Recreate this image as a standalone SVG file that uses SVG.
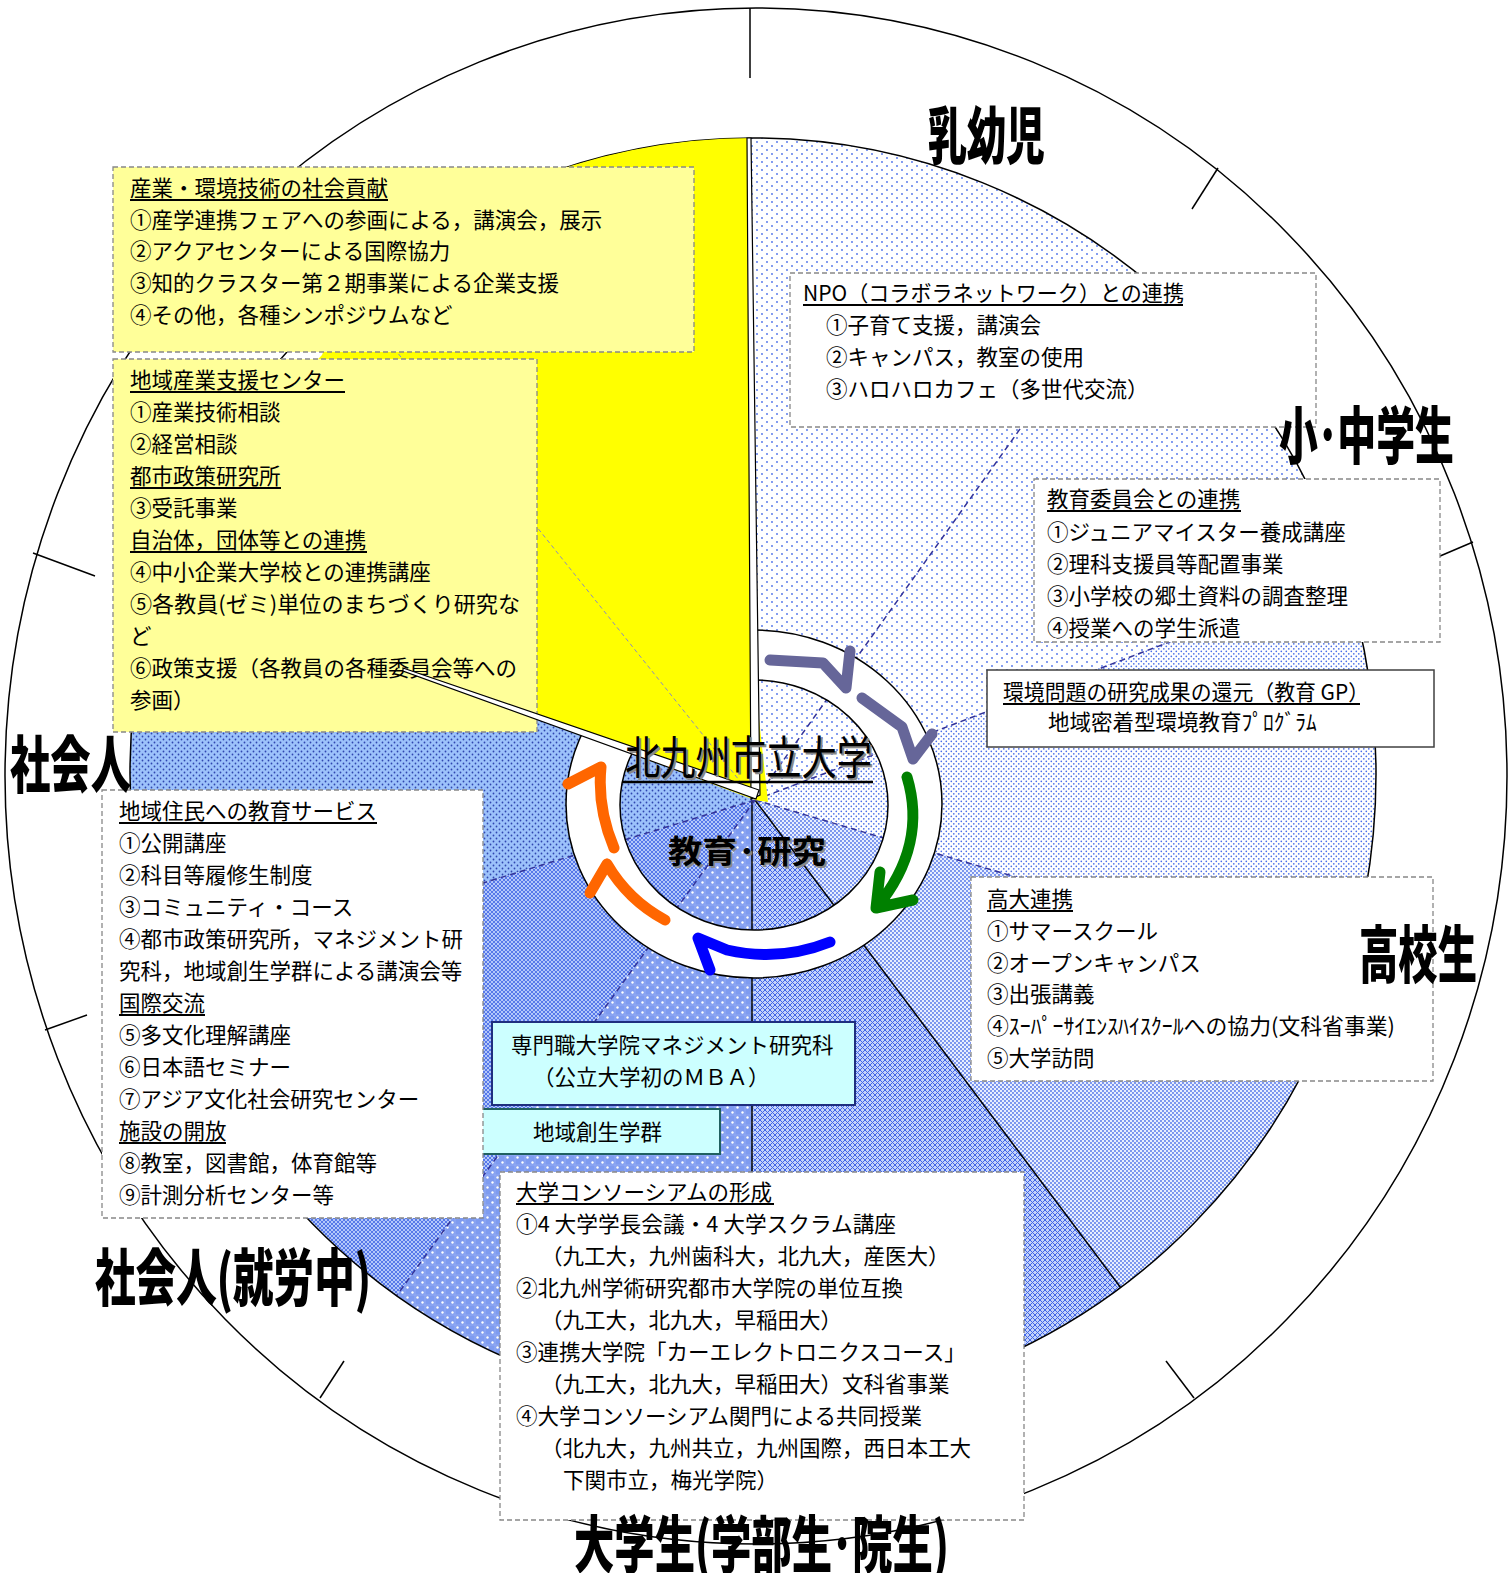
<svg xmlns="http://www.w3.org/2000/svg" width="1510" height="1573" viewBox="0 0 1510 1573">
<defs>
<style>
.t{font-family:"Noto Sans CJK JP","Noto Sans CJK SC",sans-serif;font-size:21.5px;fill:#000}
.big{font-family:"Noto Sans CJK JP","Noto Sans CJK SC",sans-serif;font-size:62px;font-weight:900;fill:#000}
.ctr{font-family:"Noto Sans CJK JP","Noto Sans CJK SC",sans-serif;fill:#000}
.box{fill:#fff;stroke:#888;stroke-width:1.3;stroke-dasharray:5 3}
.ybox{fill:#FFFF99;stroke:#888;stroke-width:1.3;stroke-dasharray:5 3}
.ul{stroke:#000;stroke-width:2}
.dl{stroke:#333399;stroke-width:1.5;stroke-dasharray:6 4;fill:none}
.sl{stroke:#000;stroke-width:1.5;fill:none}
.tk{stroke:#000;stroke-width:1.5}
.arw{fill:none;stroke-width:11;stroke-linecap:round;stroke-linejoin:round}
.strip{fill:#fff;stroke:#000;stroke-width:1.2}
</style>
<pattern id="pA" width="10" height="8" patternUnits="userSpaceOnUse">
<rect width="10" height="8" fill="#fff"/>
<circle cx="2" cy="2" r="0.9" fill="#4a6ee8"/>
<circle cx="7" cy="6" r="0.9" fill="#4a6ee8"/>
</pattern>
<pattern id="pB" width="5" height="5" patternUnits="userSpaceOnUse">
<rect width="5" height="5" fill="#fff"/>
<circle cx="1.3" cy="1.3" r="0.85" fill="#4a6ee8"/>
<circle cx="3.8" cy="3.8" r="0.85" fill="#4a6ee8"/>
</pattern>
<pattern id="pC" width="4" height="4" patternUnits="userSpaceOnUse">
<rect width="4" height="4" fill="#e8eefe"/>
<circle cx="1" cy="1" r="0.9" fill="#4a6ee8"/>
<circle cx="3" cy="3" r="0.9" fill="#4a6ee8"/>
</pattern>
<pattern id="pD" width="5" height="5" patternUnits="userSpaceOnUse">
<rect width="5" height="5" fill="#c4d3fa"/>
<path d="M0,0 L5,5 M5,0 L0,5" stroke="#4266e6" stroke-width="1"/>
</pattern>
<pattern id="pE" width="10" height="10" patternUnits="userSpaceOnUse">
<rect width="10" height="10" fill="#7e9bf0"/>
<path d="M0,5 L10,5 M5,0 L5,10" stroke="#93acf3" stroke-width="1"/>
<circle cx="2.5" cy="2.5" r="1.2" fill="#fff"/>
<circle cx="7.5" cy="7.5" r="1.2" fill="#fff"/>
</pattern>
<pattern id="pF" width="4" height="4" patternUnits="userSpaceOnUse">
<rect width="4" height="4" fill="#b3c7fa"/>
<path d="M0,0 L4,4 M4,0 L0,4" stroke="#4c6fe8" stroke-width="0.9"/>
</pattern>
<pattern id="pG" width="6" height="6" patternUnits="userSpaceOnUse">
<rect width="6" height="6" fill="#9cc2fb"/>
<circle cx="1.5" cy="1.5" r="0.9" fill="#2f46b0"/>
<circle cx="4.5" cy="4.5" r="0.9" fill="#2f46b0"/>
</pattern>
<clipPath id="pieclip"><ellipse cx="753" cy="774" rx="623" ry="636"/></clipPath>
</defs>
<rect width="1510" height="1573" fill="#fff"/>

<g id="outer-circle">
<ellipse cx="756" cy="776" rx="751" ry="768" fill="#fff" stroke="#000" stroke-width="1.5"/>
<line class="tk" x1="750" y1="8" x2="750" y2="78"/>
<line class="tk" x1="1218" y1="168" x2="1192" y2="209"/>
<line class="tk" x1="1473" y1="542" x2="1419" y2="565"/>
<line class="tk" x1="1194" y1="1398" x2="1166" y2="1361"/>
<line class="tk" x1="320" y1="1398" x2="344" y2="1361"/>
<line class="tk" x1="45" y1="1030" x2="87" y2="1015"/>
<line class="tk" x1="33" y1="553" x2="95" y2="576"/>
</g>

<g id="pie-sectors" clip-path="url(#pieclip)">
<polygon points="755,800 745,-200 1336,-14" fill="url(#pA)"/>
<polygon points="755,800 1336,-14 1689,442" fill="url(#pA)"/>
<polygon points="755,800 1689,442 1714,1082" fill="url(#pB)"/>
<polygon points="755,800 1714,1082 1355,1600" fill="url(#pC)"/>
<polygon points="755,800 1355,1600 750,1800" fill="url(#pD)"/>
<polygon points="755,800 750,1800 169,1610" fill="url(#pE)"/>
<polygon points="755,800 169,1610 -201,1092" fill="url(#pF)"/>
<polygon points="755,800 -201,1092 -181,448" fill="url(#pG)"/>
<line class="sl" x1="755" y1="800" x2="1121" y2="1288"/>
<line class="sl" x1="752" y1="800" x2="752" y2="1412"/>
<line class="dl" x1="755" y1="800" x2="1100" y2="317"/>
<line class="dl" x1="755" y1="800" x2="1340" y2="577"/>
<line class="dl" x1="755" y1="800" x2="1341" y2="973"/>
<line class="dl" x1="755" y1="800" x2="165" y2="980"/>
<line class="dl" x1="755" y1="800" x2="392" y2="1302" stroke="#1f3f5f"/>
</g>
<ellipse cx="753" cy="774" rx="623" ry="636" fill="none" stroke="#000" stroke-width="1.5"/>

<g id="ring">
<path d="M566,804 a188,174 0 1,0 376,0 a188,174 0 1,0 -376,0 Z M620,805 a134,125 0 1,0 268,0 a134,125 0 1,0 -268,0 Z" fill="#fff" fill-rule="evenodd" stroke="#000" stroke-width="1.5"/>
</g>

<g id="yellow-sector" clip-path="url(#pieclip)">
<polygon points="755,800 120,562 322,355 420,100 420,-100 750,-100 750,138 757,700 768,802" fill="#FFFF00"/>
<line x1="755" y1="800" x2="349" y2="292" stroke="#8c8cc0" stroke-width="1" stroke-dasharray="4 3"/>
</g>

<g id="connectors">
<path class="arw" stroke="#666699" stroke-width="12" d="M770,660 L823,663 L846,688 M850,651 L846,688"/>
<path class="arw" stroke="#666699" stroke-width="12" d="M862,698 L902,727 L913,759 M932,734 L913,759"/>
<path class="arw" stroke="#008000" d="M907,777 C920,820 912,865 876,908 M880,872 L876,908 L913,900"/>
<path class="arw" stroke="#0000FF" d="M830,942 Q780,962 727,950 L698,938 L710,970"/>
<path class="arw" stroke="#FF6600" d="M665,920 Q628,900 607,864 M590,893 L607,864"/>
<path class="arw" stroke="#FF6600" d="M614,848 Q597,808 601,767 M568,784 L601,767"/>
</g>

<g id="box-industry">
<rect class="ybox" x="113" y="167" width="581" height="185"/>
<text class="t" x="130" y="196">産業・環境技術の社会貢献</text>
<line class="ul" x1="130" y1="200" x2="388" y2="200"/>
<text class="t" x="130" y="228">①産学連携フェアへの参画による，講演会，展示</text>
<text class="t" x="130" y="259">②アクアセンターによる国際協力</text>
<text class="t" x="130" y="291">③知的クラスター第２期事業による企業支援</text>
<text class="t" x="130" y="323">④その他，各種シンポジウムなど</text>
</g>

<g id="box-regional">
<rect class="ybox" x="113" y="359" width="424" height="373"/>
<text class="t" x="130" y="388">地域産業支援センター</text>
<line class="ul" x1="130" y1="392" x2="345" y2="392"/>
<text class="t" x="130" y="420">①産業技術相談</text>
<text class="t" x="130" y="452">②経営相談</text>
<text class="t" x="130" y="484">都市政策研究所</text>
<line class="ul" x1="130" y1="488" x2="281" y2="488"/>
<text class="t" x="130" y="516">③受託事業</text>
<text class="t" x="130" y="548">自治体，団体等との連携</text>
<line class="ul" x1="130" y1="552" x2="367" y2="552"/>
<text class="t" x="130" y="580">④中小企業大学校との連携講座</text>
<text class="t" x="130" y="612" textLength="390" lengthAdjust="spacingAndGlyphs">⑤各教員(ゼミ)単位のまちづくり研究な</text>
<text class="t" x="130" y="644">ど</text>
<text class="t" x="130" y="676">⑥政策支援（各教員の各種委員会等への</text>
<text class="t" x="130" y="708">参画）</text>
</g>

<g id="box-npo">
<rect class="box" x="790" y="273" width="526" height="154"/>
<text class="t" x="803" y="301" textLength="381" lengthAdjust="spacingAndGlyphs">NPO（コラボラネットワーク）との連携</text>
<line class="ul" x1="803" y1="305" x2="1183" y2="305"/>
<text class="t" x="826" y="333">①子育て支援，講演会</text>
<text class="t" x="826" y="365">②キャンパス，教室の使用</text>
<text class="t" x="826" y="397">③ハロハロカフェ（多世代交流）</text>
</g>

<g id="box-board">
<rect class="box" x="1034" y="479" width="406" height="163"/>
<text class="t" x="1047" y="507">教育委員会との連携</text>
<line class="ul" x1="1047" y1="511" x2="1241" y2="511"/>
<text class="t" x="1047" y="540">①ジュニアマイスター養成講座</text>
<text class="t" x="1047" y="572">②理科支援員等配置事業</text>
<text class="t" x="1047" y="604">③小学校の郷土資料の調査整理</text>
<text class="t" x="1047" y="636">④授業への学生派遣</text>
</g>

<g id="box-env">
<rect x="987" y="670" width="447" height="77" fill="#fff" stroke="#404040" stroke-width="1.5"/>
<text class="t" x="1003" y="700" textLength="366" lengthAdjust="spacingAndGlyphs">環境問題の研究成果の還元（教育 GP）</text>
<line class="ul" x1="1003" y1="704" x2="1360" y2="704"/>
<text class="t" x="1048" y="730">地域密着型環境教育ﾌﾟﾛｸﾞﾗﾑ</text>
</g>

<g id="box-highschool">
<rect class="box" x="971" y="877" width="462" height="204"/>
<text class="t" x="987" y="907">高大連携</text>
<line class="ul" x1="987" y1="911" x2="1073" y2="911"/>
<text class="t" x="987" y="939">①サマースクール</text>
<text class="t" x="987" y="971">②オープンキャンパス</text>
<text class="t" x="987" y="1002">③出張講義</text>
<text class="t" x="987" y="1034" textLength="408" lengthAdjust="spacingAndGlyphs">④ｽｰﾊﾟｰｻｲｴﾝｽﾊｲｽｸｰﾙへの協力(文科省事業)</text>
<text class="t" x="987" y="1066">⑤大学訪問</text>
</g>

<g id="box-mba">
<rect x="492" y="1022" width="363" height="83" fill="#CCFFFF" stroke="#1F2F7F" stroke-width="2"/>
<text class="t" x="511" y="1053">専門職大学院マネジメント研究科</text>
<text class="t" x="533" y="1085">（公立大学初のＭＢＡ）</text>
</g>

<g id="box-sousei">
<rect x="470" y="1109" width="250" height="45" fill="#CCFFFF" stroke="#206060" stroke-width="2"/>
<text class="t" x="533" y="1140">地域創生学群</text>
</g>

<g id="box-residents">
<rect class="box" x="102" y="790" width="381" height="428"/>
<text class="t" x="119" y="819">地域住民への教育サービス</text>
<line class="ul" x1="119" y1="823" x2="377" y2="823"/>
<text class="t" x="119" y="851">①公開講座</text>
<text class="t" x="119" y="883">②科目等履修生制度</text>
<text class="t" x="119" y="915">③コミュニティ・コース</text>
<text class="t" x="119" y="947">④都市政策研究所，マネジメント研</text>
<text class="t" x="119" y="979">究科，地域創生学群による講演会等</text>
<text class="t" x="119" y="1011">国際交流</text>
<line class="ul" x1="119" y1="1015" x2="205" y2="1015"/>
<text class="t" x="119" y="1043">⑤多文化理解講座</text>
<text class="t" x="119" y="1075">⑥日本語セミナー</text>
<text class="t" x="119" y="1107">⑦アジア文化社会研究センター</text>
<text class="t" x="119" y="1139">施設の開放</text>
<line class="ul" x1="119" y1="1143" x2="226" y2="1143"/>
<text class="t" x="119" y="1171">⑧教室，図書館，体育館等</text>
<text class="t" x="119" y="1203">⑨計測分析センター等</text>
</g>

<g id="box-consortium">
<rect class="box" x="500" y="1172" width="524" height="348"/>
<text class="t" x="516" y="1200">大学コンソーシアムの形成</text>
<line class="ul" x1="516" y1="1204" x2="774" y2="1204"/>
<text class="t" x="516" y="1232" textLength="380" lengthAdjust="spacingAndGlyphs">①4 大学学長会議・4 大学スクラム講座</text>
<text class="t" x="541" y="1264">（九工大，九州歯科大，北九大，産医大）</text>
<text class="t" x="516" y="1296">②北九州学術研究都市大学院の単位互換</text>
<text class="t" x="541" y="1328">（九工大，北九大，早稲田大）</text>
<text class="t" x="516" y="1360">③連携大学院「カーエレクトロニクスコース」</text>
<text class="t" x="541" y="1392">（九工大，北九大，早稲田大）文科省事業</text>
<text class="t" x="516" y="1424">④大学コンソーシアム関門による共同授業</text>
<text class="t" x="541" y="1456">（北九大，九州共立，九州国際，西日本工大</text>
<text class="t" x="563" y="1488">下関市立，梅光学院）</text>
</g>

<g id="pointers">
<polygon class="strip" points="747,138 751,138 760,795 751,799"/>
<polygon class="strip" points="403,668 759,790 756,799 403,671"/>
</g>

<g id="center-labels">
<text class="ctr" x="627" y="776" font-size="46" style="fill:#888" textLength="247" lengthAdjust="spacingAndGlyphs">北九州市立大学</text>
<text class="ctr" x="625" y="774" font-size="46" textLength="247" lengthAdjust="spacingAndGlyphs">北九州市立大学</text>
<line x1="622" y1="782" x2="873" y2="782" stroke="#000" stroke-width="2.5"/>
<text class="ctr" x="670" y="865" font-size="32" font-weight="bold" style="fill:#888" textLength="158" lengthAdjust="spacingAndGlyphs">教育·研究</text>
<text class="ctr" x="668" y="863" font-size="32" font-weight="bold" textLength="158" lengthAdjust="spacingAndGlyphs">教育·研究</text>
</g>

<g id="segment-labels">
<text class="big" x="928" y="159" textLength="117" lengthAdjust="spacingAndGlyphs">乳幼児</text>
<text class="big" x="1279" y="459" textLength="175" lengthAdjust="spacingAndGlyphs">小･中学生</text>
<text class="big" x="1359" y="978" textLength="118" lengthAdjust="spacingAndGlyphs">高校生</text>
<text class="big" x="10" y="788" textLength="121" lengthAdjust="spacingAndGlyphs">社会人</text>
<text class="big" x="95" y="1301" textLength="276" lengthAdjust="spacingAndGlyphs">社会人(就労中)</text>
<text class="big" x="574" y="1568" textLength="375" lengthAdjust="spacingAndGlyphs">大学生(学部生･院生)</text>
</g>
</svg>
